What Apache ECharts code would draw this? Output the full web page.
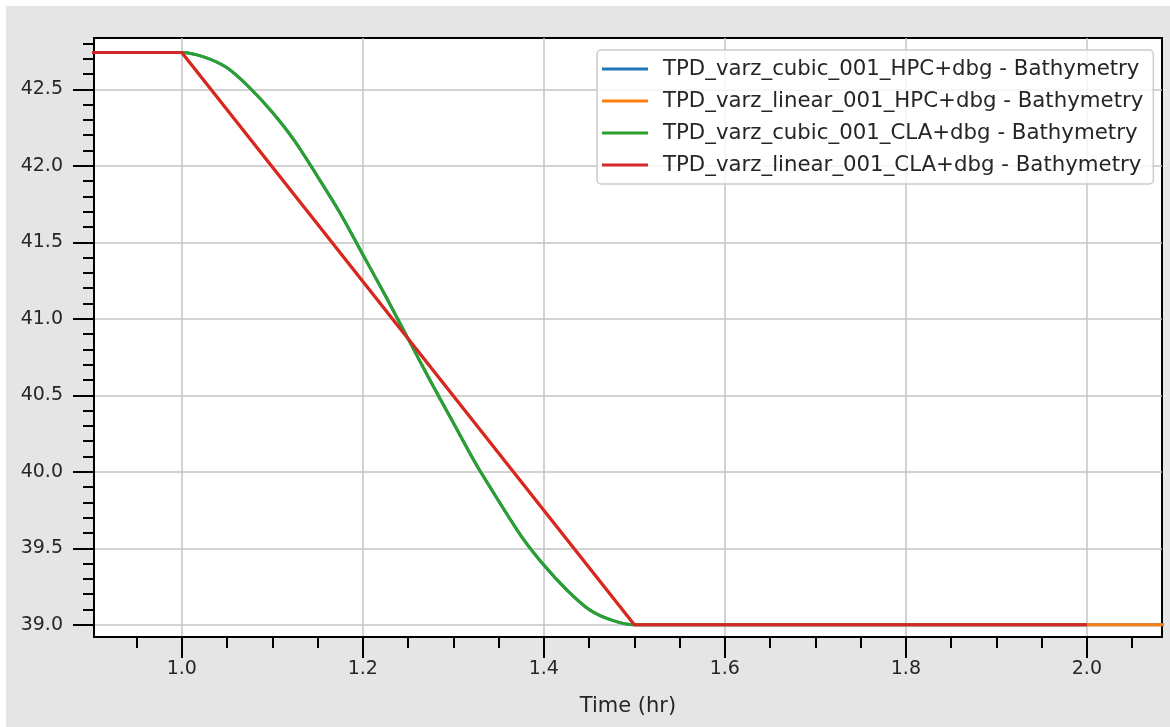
<!DOCTYPE html>
<html>
<head>
<meta charset="utf-8">
<script src="https://cdn.jsdelivr.net/npm/echarts@6/dist/echarts.min.js"></script>
<style>
  html, body { margin: 0; padding: 0; background: #ffffff; width: 1170px; height: 727px; overflow: hidden; }
  #chart { position: absolute; left: 6px; top: 6px; width: 1164px; height: 721px; background: #e5e5e5; }
</style>
</head>
<body>
<div id="chart"></div>
<script>
// ---- data ----
const seriesNames = [
  'TPD_varz_cubic_001_HPC+dbg - Bathymetry',
  'TPD_varz_linear_001_HPC+dbg - Bathymetry',
  'TPD_varz_cubic_001_CLA+dbg - Bathymetry',
  'TPD_varz_linear_001_CLA+dbg - Bathymetry'
];
const seriesColors = ['#1f77b4', '#ff7f0e', '#2ca02c', '#d62728'];

const timeCubic = [0.9, 1.0, 1.025, 1.05, 1.075, 1.1, 1.125, 1.15, 1.175, 1.2, 1.225, 1.25,
                   1.275, 1.3, 1.325, 1.35, 1.375, 1.4, 1.425, 1.45, 1.475, 1.5];
const bathyCubic = [42.74, 42.74, 42.71, 42.64, 42.51, 42.35, 42.16, 41.93, 41.69, 41.42, 41.15, 40.87,
                    40.59, 40.32, 40.05, 39.81, 39.58, 39.39, 39.23, 39.10, 39.03, 39.00];
const timeLinear = [0.9, 1.0, 1.5];
const bathyLinear = [42.74, 42.74, 39.00];
const endTimeCLA = 2.0;
const endTimeHPC = 2.1;
const endBathy = 39.00;

const xMin = 0.903, xMax = 2.083;
const yMin = 38.92, yMax = 42.835;
const xTicks = [1.0, 1.2, 1.4, 1.6, 1.8, 2.0];
const xMinorTicks = [0.95, 1.05, 1.1, 1.15, 1.25, 1.3, 1.35, 1.45, 1.5, 1.55, 1.65, 1.7, 1.75,
                     1.85, 1.9, 1.95, 2.05];
const yTicks = [39.0, 39.5, 40.0, 40.5, 41.0, 41.5, 42.0, 42.5];
const yMinorTicks = [39.1, 39.2, 39.3, 39.4, 39.6, 39.7, 39.8, 39.9, 40.1, 40.2, 40.3, 40.4,
                     40.6, 40.7, 40.8, 40.9, 41.1, 41.2, 41.3, 41.4, 41.6, 41.7, 41.8, 41.9,
                     42.1, 42.2, 42.3, 42.4, 42.6, 42.7, 42.8];
const xLabel = 'Time (hr)';

// ---- build ----
function pairs(xs, ys) { return xs.map((x, i) => [x, ys[i]]); }
const cubicCLA = pairs(timeCubic, bathyCubic).concat([[endTimeCLA, endBathy]]);
const cubicHPC = pairs(timeCubic, bathyCubic).concat([[endTimeHPC, endBathy]]);
const linearCLA = pairs(timeLinear, bathyLinear).concat([[endTimeCLA, endBathy]]);
const linearHPC = pairs(timeLinear, bathyLinear).concat([[endTimeHPC, endBathy]]);
const seriesData = [cubicHPC, linearHPC, cubicCLA, linearCLA];
const isCubic = [true, false, true, false];

const FONT = 'DejaVu Sans';
const TXT = '#262626';

const chart = echarts.init(document.getElementById('chart'));
chart.setOption({
  animation: false,
  backgroundColor: '#e5e5e5',
  textStyle: { fontFamily: FONT },
  grid: {
    left: 88, top: 32, right: 8, bottom: 90,
    show: true, backgroundColor: '#ffffff', borderColor: '#000000', borderWidth: 2,
    containLabel: false
  },
  legend: {
    orient: 'vertical',
    left: 591, top: 44,
    data: seriesNames,
    icon: 'rect',
    itemWidth: 46, itemHeight: 3,
    itemGap: 4,
    padding: [5, 10, 5, 5],
    backgroundColor: 'rgba(255,255,255,0.8)',
    borderColor: '#cccccc', borderWidth: 1.5, borderRadius: 4,
    textStyle: { fontFamily: FONT, fontSize: 21.3, color: TXT, lineHeight: 28, padding: [0, 0, 0, 10] }
  },
  xAxis: [{
    type: 'value', min: xMin, max: xMax, position: 'bottom',
    name: xLabel, nameLocation: 'middle', nameGap: 59,
    nameTextStyle: { fontFamily: FONT, fontSize: 21, color: TXT },
    axisLine: { show: true, onZero: false, lineStyle: { color: '#000', width: 2 } },
    axisTick: { show: true, inside: false, length: 21, customValues: xTicks, lineStyle: { color: '#000', width: 2 } },
    axisLabel: { show: true, customValues: xTicks, margin: 23, fontFamily: FONT, fontSize: 19, color: TXT,
                 formatter: v => v.toFixed(1) },
    splitLine: { show: true, lineStyle: { color: '#c4c4c4', width: 1.5 } }
  }, {
    type: 'value', min: xMin, max: xMax, position: 'bottom', offset: 0,
    axisLine: { show: false },
    axisTick: { show: true, inside: false, length: 11, customValues: xMinorTicks, lineStyle: { color: '#000', width: 2 } },
    axisLabel: { show: false, customValues: xMinorTicks },
    splitLine: { show: false }
  }],
  yAxis: [{
    type: 'value', min: yMin, max: yMax, position: 'left',
    axisLine: { show: true, onZero: false, lineStyle: { color: '#000', width: 2 } },
    axisTick: { show: true, inside: false, length: 21, customValues: yTicks, lineStyle: { color: '#000', width: 2 } },
    axisLabel: { show: true, customValues: yTicks, margin: 31, fontFamily: FONT, fontSize: 19, color: TXT,
                 formatter: v => v.toFixed(1) },
    splitLine: { show: true, lineStyle: { color: '#c4c4c4', width: 1.5 } }
  }, {
    type: 'value', min: yMin, max: yMax, position: 'left', offset: 0,
    axisLine: { show: false },
    axisTick: { show: true, inside: false, length: 11, customValues: yMinorTicks, lineStyle: { color: '#000', width: 2 } },
    axisLabel: { show: false, customValues: yMinorTicks },
    splitLine: { show: false }
  }],
  series: seriesNames.map((name, i) => ({
    name: name,
    type: 'line',
    xAxisIndex: 0, yAxisIndex: 0,
    data: seriesData[i],
    showSymbol: false, symbol: 'none',
    smooth: isCubic[i] ? 0.3 : false,
    clip: true,
    color: seriesColors[i],
    lineStyle: { color: seriesColors[i], width: 3 },
    z: 2 + i
  }))
});
</script>
</body>
</html>
